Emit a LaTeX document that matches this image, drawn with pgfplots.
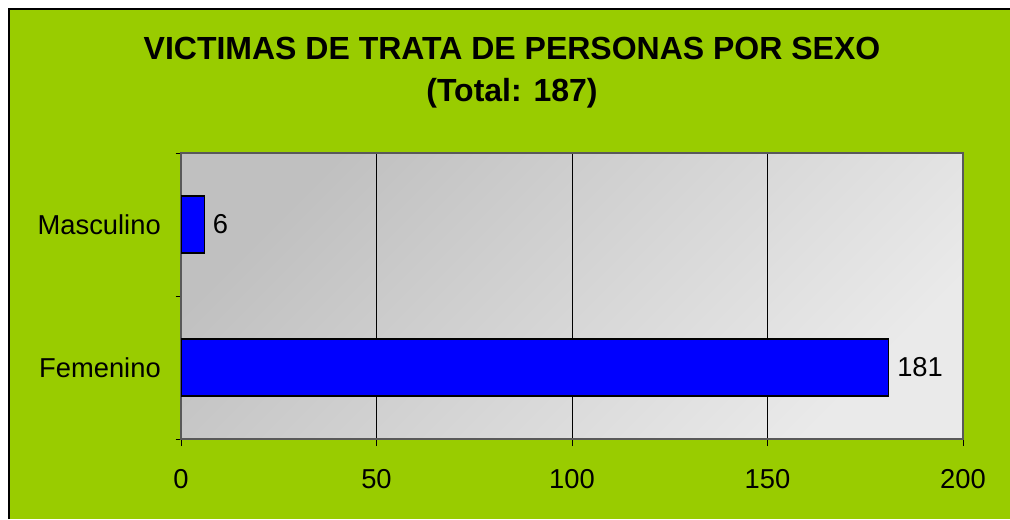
\documentclass[border=0pt]{standalone}
\usepackage{pgfplots}
\pgfplotsset{compat=1.18}
\usepackage{fontspec}
\setmainfont{Liberation Sans}
\definecolor{bggreen}{RGB}{153,204,0}
\definecolor{barblue}{RGB}{0,0,255}
\definecolor{pdark}{RGB}{192,192,192}
\definecolor{plight}{RGB}{234,234,234}
\begin{document}
\begin{tikzpicture}
\path[use as bounding box] (0,0) rectangle (757.5pt,-389.25pt);
\fill[white] (0,0) rectangle (757.5pt,-389.25pt);
\fill[bggreen] (6.75pt,-6.75pt) rectangle (757.5pt,-389.25pt);
\draw[black, line width=1.4pt] (6.75pt,-389.25pt) -- (6.75pt,-6.75pt) -- (757.5pt,-6.75pt);
\node[font=\fontsize{24}{28}\selectfont\bfseries] at (384pt,-36pt) {VICTIMAS DE TRATA DE PERSONAS POR SEXO};
\node[font=\fontsize{24}{28}\selectfont\bfseries] at (384pt,-69.75pt) {(Total: 187)};
\begin{axis}[
  at={(135.75pt,-329.25pt)}, anchor=south west,
  scale only axis, width=586.5pt, height=214.5pt,
  xbar, bar width=42.75pt,
  xmin=0, xmax=200, ymin=-0.5, ymax=1.5,
  xtick={0,50,100,150,200},
  ytick={0,1}, yticklabels={Femenino,Masculino},
  minor ytick={-0.5,0.5,1.5},
  xtick pos=bottom, ytick pos=left,
  tick align=outside,
  major tick length=5.25pt, minor tick length=4pt,
  y tick style={draw=none},
  minor y tick style={draw=black, line width=0.6pt},
  x tick style={draw=black, line width=0.6pt},
  xmajorgrids, grid style={black, line width=0.6pt},
  axis line style={draw=gray!70!black, line width=0.8pt},
  /pgf/number format/assume math mode=true,
  ticklabel style={font=\fontsize{20.5}{24}\selectfont, inner sep=0pt},
  xticklabel shift=17.5pt,
  yticklabel shift=9.75pt,
  axis background/.style={shade, top color=pdark, bottom color=plight, shading angle=45},
  nodes near coords,
  nodes near coords style={font=\fontsize{20.5}{24}\selectfont, anchor=west, inner sep=0pt, xshift=6pt},
]
\addplot[fill=barblue, draw=black, line width=0.8pt] coordinates {(181,0) (6,1)};
\end{axis}
\end{tikzpicture}
\end{document}
